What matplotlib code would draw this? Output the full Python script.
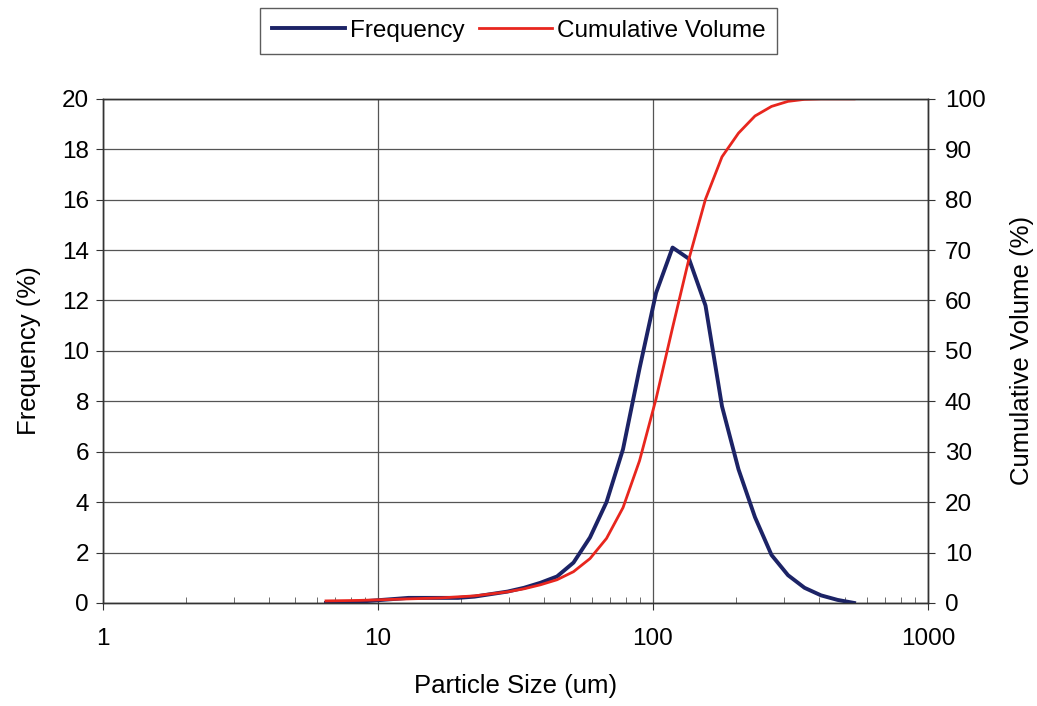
import numpy as np
import matplotlib
matplotlib.use("Agg")
import matplotlib.pyplot as plt
from matplotlib.ticker import LogLocator, NullFormatter, FixedLocator

plt.rcParams['font.family'] = ['Liberation Sans', 'DejaVu Sans']

# particle size classes (um)
size = [6.47, 7.43, 8.53, 9.80, 11.25, 12.91, 14.83, 17.02, 19.54, 22.44,
        25.76, 29.58, 33.96, 38.99, 44.77, 51.40, 59.02, 67.76, 77.80, 89.33,
        102.6, 117.8, 135.2, 155.2, 178.2, 204.6, 234.9, 269.8, 309.7, 355.6,
        408.3, 468.8, 538.3]

frequency = [0.0, 0.02, 0.05, 0.10, 0.15, 0.20, 0.20, 0.20, 0.20, 0.25,
             0.35, 0.45, 0.60, 0.80, 1.05, 1.60, 2.60, 4.0, 6.1, 9.3,
             12.3, 14.1, 13.65, 11.8, 7.8, 5.3, 3.4, 1.9, 1.1, 0.6,
             0.3, 0.12, 0.0]

cumulative = [0.4, 0.45, 0.5, 0.6, 0.7, 0.8, 0.9, 1.0, 1.2, 1.4,
              1.8, 2.2, 2.8, 3.6, 4.6, 6.2, 8.8, 12.8, 18.9, 28.2,
              40.5, 54.6, 68.3, 80.1, 88.5, 93.2, 96.6, 98.5, 99.5, 99.9,
              100.0, 100.0, 100.0]

fig = plt.figure(figsize=(10.37, 7.06), dpi=100)
ax = fig.add_axes([0.0993, 0.146, 0.7956, 0.714])
ax2 = ax.twinx()

grid_c = '#555555'
l1, = ax.plot(size, frequency, color='#1c2366', lw=2.8, label='Frequency', zorder=3)
l2, = ax2.plot(size, cumulative, color='#e8261e', lw=2.0, label='Cumulative Volume', zorder=2)

ax.set_xscale('log')
ax.set_xlim(1, 1000)
ax.set_ylim(0, 20)
ax2.set_ylim(0, 100)
ax.set_yticks(np.arange(0, 21, 2))
ax2.set_yticks(np.arange(0, 101, 10))
ax.xaxis.set_major_locator(FixedLocator([1, 10, 100, 1000]))
ax.set_xticklabels(['1', '10', '100', '1000'])
ax.xaxis.set_minor_locator(LogLocator(base=10, subs=np.arange(2, 10), numticks=20))
ax.xaxis.set_minor_formatter(NullFormatter())

ax.grid(True, which='major', color=grid_c, lw=0.9)
ax.set_axisbelow(True)

for a in (ax, ax2):
    for s in a.spines.values():
        s.set_color('#333333')
        s.set_linewidth(1.0)
ax.tick_params(axis='both', which='major', labelsize=17.5, length=5, color='#333333')
ax.tick_params(axis='x', which='major', pad=13)
ax.tick_params(axis='y', which='major', pad=5)
ax.tick_params(axis='x', which='minor', direction='in', length=4, color='#555555')
ax2.tick_params(axis='y', labelsize=17.5, length=5, pad=7, color='#333333')

ax.set_xlabel('Particle Size (um)', fontsize=18.5, labelpad=17)
ax.set_ylabel('Frequency (%)', fontsize=18.5, labelpad=15)
ax2.set_ylabel('Cumulative Volume (%)', fontsize=18.5, labelpad=18)

leg = fig.legend([l1, l2], ['Frequency', 'Cumulative Volume'], loc='upper center',
                 bbox_to_anchor=(0.5, 0.989), borderaxespad=0, ncol=2, fontsize=17.5,
                 frameon=True, fancybox=False, edgecolor='#333333', handlelength=3.0,
                 columnspacing=0.6, handletextpad=0.2, borderpad=0.5)
leg.get_frame().set_linewidth(1.0)

fig.savefig('out.png', dpi=100)
